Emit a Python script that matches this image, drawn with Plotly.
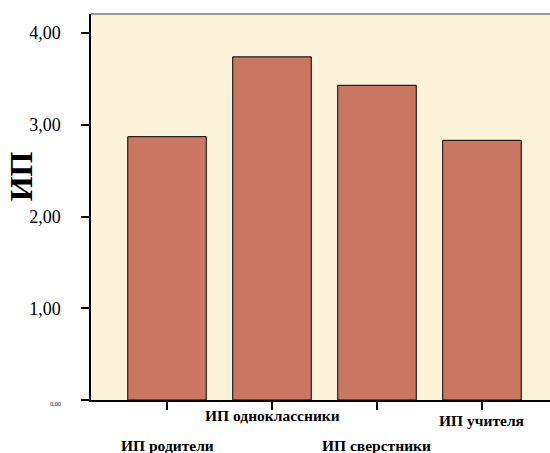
import plotly.graph_objects as go

categories = ["ИП родители", "ИП одноклассники", "ИП сверстники", "ИП учителя"]
values = [2.87, 3.74, 3.43, 2.83]
y_tick_vals = [0, 1, 2, 3, 4]
y_tick_text = ["<span style='font-size:6px'>0,00</span>", "1,00", "2,00", "3,00", "4,00"]
y_title = "ИП"
label_rows = [-0.1166, -0.0389, -0.1166, -0.054]

fig = go.Figure()
fig.add_trace(go.Bar(
    x=categories, y=values, width=0.748,
    marker=dict(color="#C97761", line=dict(color="#000000", width=1)),
))

for cat, yy in zip(categories, label_rows):
    fig.add_annotation(
        x=cat, xref="x", y=yy, yref="paper", yanchor="middle",
        text="<b>" + cat + "</b>", showarrow=False,
        font=dict(family="Liberation Serif", size=15.5, color="#000000"),
    )

fig.add_annotation(
    x=-0.152, xref="paper", y=0.580, yref="paper", xanchor="center", yanchor="middle",
    text="<b>" + y_title + "</b>", textangle=-90, showarrow=False,
    font=dict(family="Liberation Serif", size=32, color="#000000"),
)

fig.add_shape(type="line", xref="paper", yref="paper", x0=0, x1=1, y0=1, y1=1,
              line=dict(color="#7a7a7a", width=1.5))

fig.update_layout(
    width=550, height=453,
    margin=dict(l=91, r=0, t=14, b=53),
    paper_bgcolor="#FFFFFF", plot_bgcolor="#FCF3DA",
    showlegend=False,
    font=dict(family="Liberation Serif", color="#000000"),
    xaxis=dict(
        range=[-0.724, 3.648], showticklabels=False, ticks="outside", ticklen=8,
        tickcolor="#000000", tickwidth=1.5, showline=True, linecolor="#000000",
        linewidth=1.5, showgrid=False, zeroline=False,
    ),
    yaxis=dict(
        range=[0, 4.207], tickvals=y_tick_vals, ticktext=y_tick_text,
        ticks="outside", ticklen=8, tickcolor="#000000", tickwidth=1.5,
        showline=True, linecolor="#000000", linewidth=1.5, showgrid=False,
        zeroline=False, tickfont=dict(family="Liberation Serif", size=18, color="#000000"),
        ticklabelstandoff=17, automargin=False,
    ),
)

fig.write_html("out.html", config={"displayModeBar": False},
               post_script="document.body.style.margin='0';document.body.style.overflow='hidden';")
